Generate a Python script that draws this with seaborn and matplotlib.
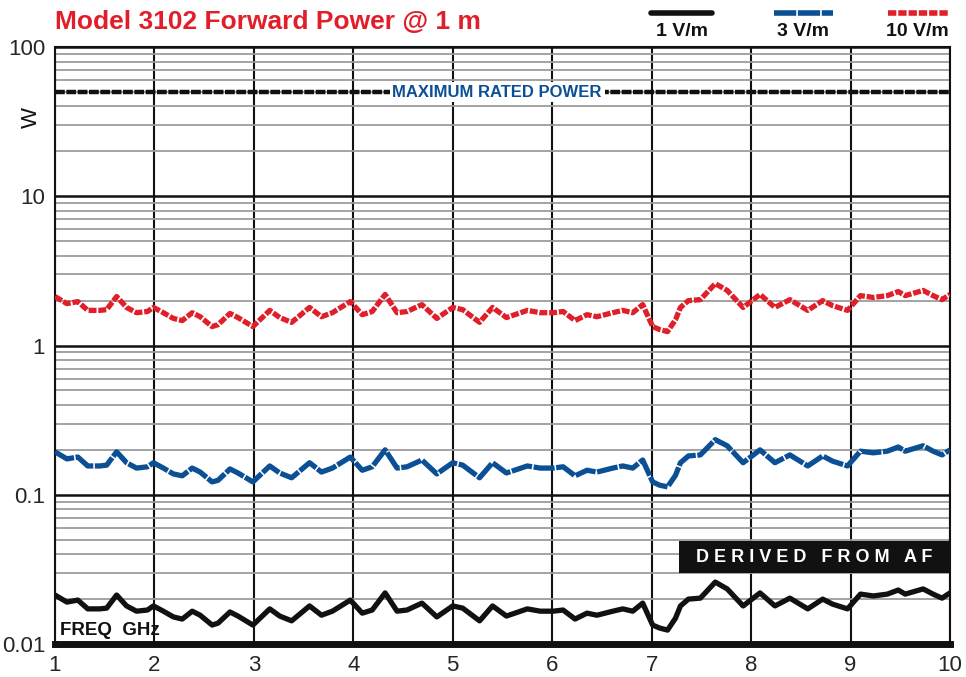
import numpy as np
import pandas as pd
import matplotlib.pyplot as plt
import seaborn as sns
from matplotlib.lines import Line2D
from matplotlib.patches import Rectangle

# frequency points (GHz)
freq = [1.00, 1.12, 1.23, 1.33, 1.45, 1.52, 1.62, 1.72, 1.82, 1.93,
        1.99, 2.09, 2.19, 2.28, 2.38, 2.46, 2.58, 2.64, 2.76, 2.84,
        2.99, 3.16, 3.26, 3.38, 3.56, 3.68, 3.79, 3.97, 4.09, 4.19,
        4.32, 4.44, 4.54, 4.69, 4.84, 5.00, 5.10, 5.27, 5.40, 5.54,
        5.75, 5.88, 6.01, 6.11, 6.23, 6.35, 6.45, 6.61, 6.71, 6.81,
        6.91, 7.01, 7.08, 7.16, 7.24, 7.29, 7.37, 7.49, 7.64, 7.76,
        7.92, 8.09, 8.24, 8.39, 8.57, 8.72, 8.82, 8.97, 9.10, 9.23,
        9.37, 9.48, 9.55, 9.73, 9.83, 9.92, 10.00]

# forward power (W) for 10 V/m
p_10 = [2.13, 1.91, 1.97, 1.72, 1.72, 1.74, 2.13, 1.80, 1.66, 1.69,
        1.80, 1.66, 1.52, 1.47, 1.66, 1.56, 1.34, 1.38, 1.64, 1.54,
        1.34, 1.72, 1.54, 1.43, 1.80, 1.56, 1.66, 1.97, 1.61, 1.69,
        2.20, 1.66, 1.69, 1.88, 1.52, 1.80, 1.74, 1.43, 1.80, 1.54,
        1.72, 1.66, 1.66, 1.69, 1.47, 1.61, 1.56, 1.66, 1.72, 1.66,
        1.88, 1.34, 1.28, 1.24, 1.49, 1.80, 2.00, 2.03, 2.60, 2.34,
        1.80, 2.20, 1.80, 2.03, 1.72, 2.00, 1.85, 1.72, 2.16, 2.10,
        2.16, 2.30, 2.16, 2.34, 2.16, 2.03, 2.20]

# forward power (W) for 3 V/m
p_3 = [0.194, 0.174, 0.179, 0.156, 0.156, 0.158, 0.194, 0.164, 0.151, 0.154,
       0.164, 0.151, 0.138, 0.134, 0.151, 0.142, 0.122, 0.125, 0.149, 0.140,
       0.122, 0.156, 0.140, 0.130, 0.164, 0.142, 0.151, 0.179, 0.146, 0.154,
       0.200, 0.151, 0.154, 0.171, 0.138, 0.164, 0.158, 0.130, 0.164, 0.140,
       0.156, 0.151, 0.151, 0.154, 0.134, 0.146, 0.142, 0.151, 0.156, 0.151,
       0.171, 0.122, 0.116, 0.113, 0.135, 0.164, 0.182, 0.185, 0.234, 0.213,
       0.164, 0.200, 0.164, 0.185, 0.156, 0.182, 0.168, 0.156, 0.196, 0.191,
       0.196, 0.209, 0.196, 0.213, 0.196, 0.185, 0.200]

# forward power (W) for 1 V/m
p_1 = [0.0213, 0.0191, 0.0197, 0.0172, 0.0172, 0.0174, 0.0213, 0.0180, 0.0166, 0.0169,
       0.0180, 0.0166, 0.0152, 0.0147, 0.0166, 0.0156, 0.0134, 0.0138, 0.0164, 0.0154,
       0.0134, 0.0172, 0.0154, 0.0143, 0.0180, 0.0156, 0.0166, 0.0197, 0.0161, 0.0169,
       0.0220, 0.0166, 0.0169, 0.0188, 0.0152, 0.0180, 0.0174, 0.0143, 0.0180, 0.0154,
       0.0172, 0.0166, 0.0166, 0.0169, 0.0147, 0.0161, 0.0156, 0.0166, 0.0172, 0.0166,
       0.0188, 0.0134, 0.0128, 0.0124, 0.0149, 0.0180, 0.0200, 0.0203, 0.0260, 0.0234,
       0.0180, 0.0220, 0.0180, 0.0203, 0.0172, 0.0200, 0.0185, 0.0172, 0.0216, 0.0210,
       0.0216, 0.0230, 0.0216, 0.0234, 0.0216, 0.0203, 0.0220]

max_rated = 50
y_ticks = [0.01, 0.1, 1, 10, 100]
y_tick_labels = ["0.01", "0.1", "1", "10", "100"]
x_ticks = [1, 2, 3, 4, 5, 6, 7, 8, 9, 10]
series_names = ["1 V/m", "3 V/m", "10 V/m"]

RED = "#e01f2a"
BLUE = "#0b4f95"
BLACK = "#111111"
FONT = ["Liberation Sans", "DejaVu Sans"]

df = pd.DataFrame({"freq": freq, "p1": p_1, "p3": p_3, "p10": p_10})

sns.set_style("white")
fig = plt.figure(figsize=(9.66, 6.77), dpi=100)
ax = fig.add_axes([0.0569, 0.0487, 0.9265, 0.8818])

ax.set_yscale("log")
ax.set_xlim(1, 10)
ax.set_ylim(0.01, 100)

# grid
ax.yaxis.grid(True, which="minor", color="#9c9c9c", lw=1.3)
ax.yaxis.grid(True, which="major", color=BLACK, lw=1.8)
ax.xaxis.grid(True, which="major", color=BLACK, lw=1.5)
ax.set_axisbelow(True)

for s in ["left", "right", "top"]:
    ax.spines[s].set_color(BLACK)
    ax.spines[s].set_linewidth(1.5)
ax.spines["bottom"].set_color(BLACK)
ax.spines["bottom"].set_linewidth(5)

# max rated power line
ax.axhline(max_rated, color=BLACK, lw=3.2, linestyle=(0, (2.2, 0.35)), zorder=3)
ax.text(0.494, 0.9246, "MAXIMUM RATED POWER", transform=ax.transAxes,
        ha="center", va="center", color=BLUE, fontsize=12, fontweight="bold",
        family=FONT, zorder=4,
        bbox=dict(facecolor="white", edgecolor="none", pad=2))

# data lines
line_kw = dict(lw=3.8, sort=False, zorder=5, solid_joinstyle="round",
               dash_joinstyle="round")
sns.lineplot(data=df, x="freq", y="p10", ax=ax, color=RED,
             linestyle=(0, (1.5, 0.35)), **line_kw)
sns.lineplot(data=df, x="freq", y="p3", ax=ax, color=BLUE,
             linestyle=(0, (4.0, 0.3)), **line_kw)
sns.lineplot(data=df, x="freq", y="p1", ax=ax, color=BLACK, **line_kw)

ax.set_xlabel("")
ax.set_ylabel("")
ax.set_yticks(y_ticks)
ax.set_yticklabels(y_tick_labels, family=FONT, fontsize=16)
ax.set_xticks(x_ticks)
ax.set_xticklabels([str(v) for v in x_ticks], family=FONT, fontsize=16)
ax.tick_params(axis="both", which="both", length=0)
ax.tick_params(axis="x", pad=8)
ax.tick_params(axis="y", pad=7)
ax.yaxis.set_minor_formatter(plt.NullFormatter())

# derived from AF box
ax.add_patch(Rectangle((0.697, 0.119), 0.303, 0.0535, transform=ax.transAxes,
                       facecolor=BLACK, edgecolor="none", zorder=6))
ax.text(0.8485, 0.1457, "D E R I V E D   F R O M   A F", transform=ax.transAxes,
        ha="center", va="center", color="white", fontsize=13, fontweight="bold",
        family=FONT, zorder=7)

ax.text(0.006, 0.023, "FREQ  GHz", transform=ax.transAxes, ha="left", va="center",
        fontsize=13.5, fontweight="bold", family=FONT, color=BLACK, zorder=7)

# title and axis unit
fig.text(0.057, 0.9675, "Model 3102 Forward Power @ 1 m", ha="left", va="center",
         color=RED, fontsize=19, fontweight="bold", family=FONT)
fig.text(0.033, 0.826, "W", rotation=90, ha="center", va="center",
         fontsize=16, family=FONT, color=BLACK)

# legend: line sample above label
leg_x = [(0.674, 0.737), (0.801, 0.862), (0.919, 0.981)]
leg_style = [("-", BLACK), ((0, (4.0, 0.3)), BLUE), ((0, (1.5, 0.35)), RED)]
for (x0, x1), (ls, c), name in zip(leg_x, leg_style, series_names):
    fig.add_artist(Line2D([x0, x1], [0.981, 0.981], transform=fig.transFigure,
                          color=c, lw=4, linestyle=ls, solid_capstyle="round"))
    fig.text((x0 + x1) / 2, 0.954, name, ha="center", va="center",
             fontsize=14, fontweight="bold", family=FONT, color=BLACK)

fig.savefig("out.png", dpi=100)
